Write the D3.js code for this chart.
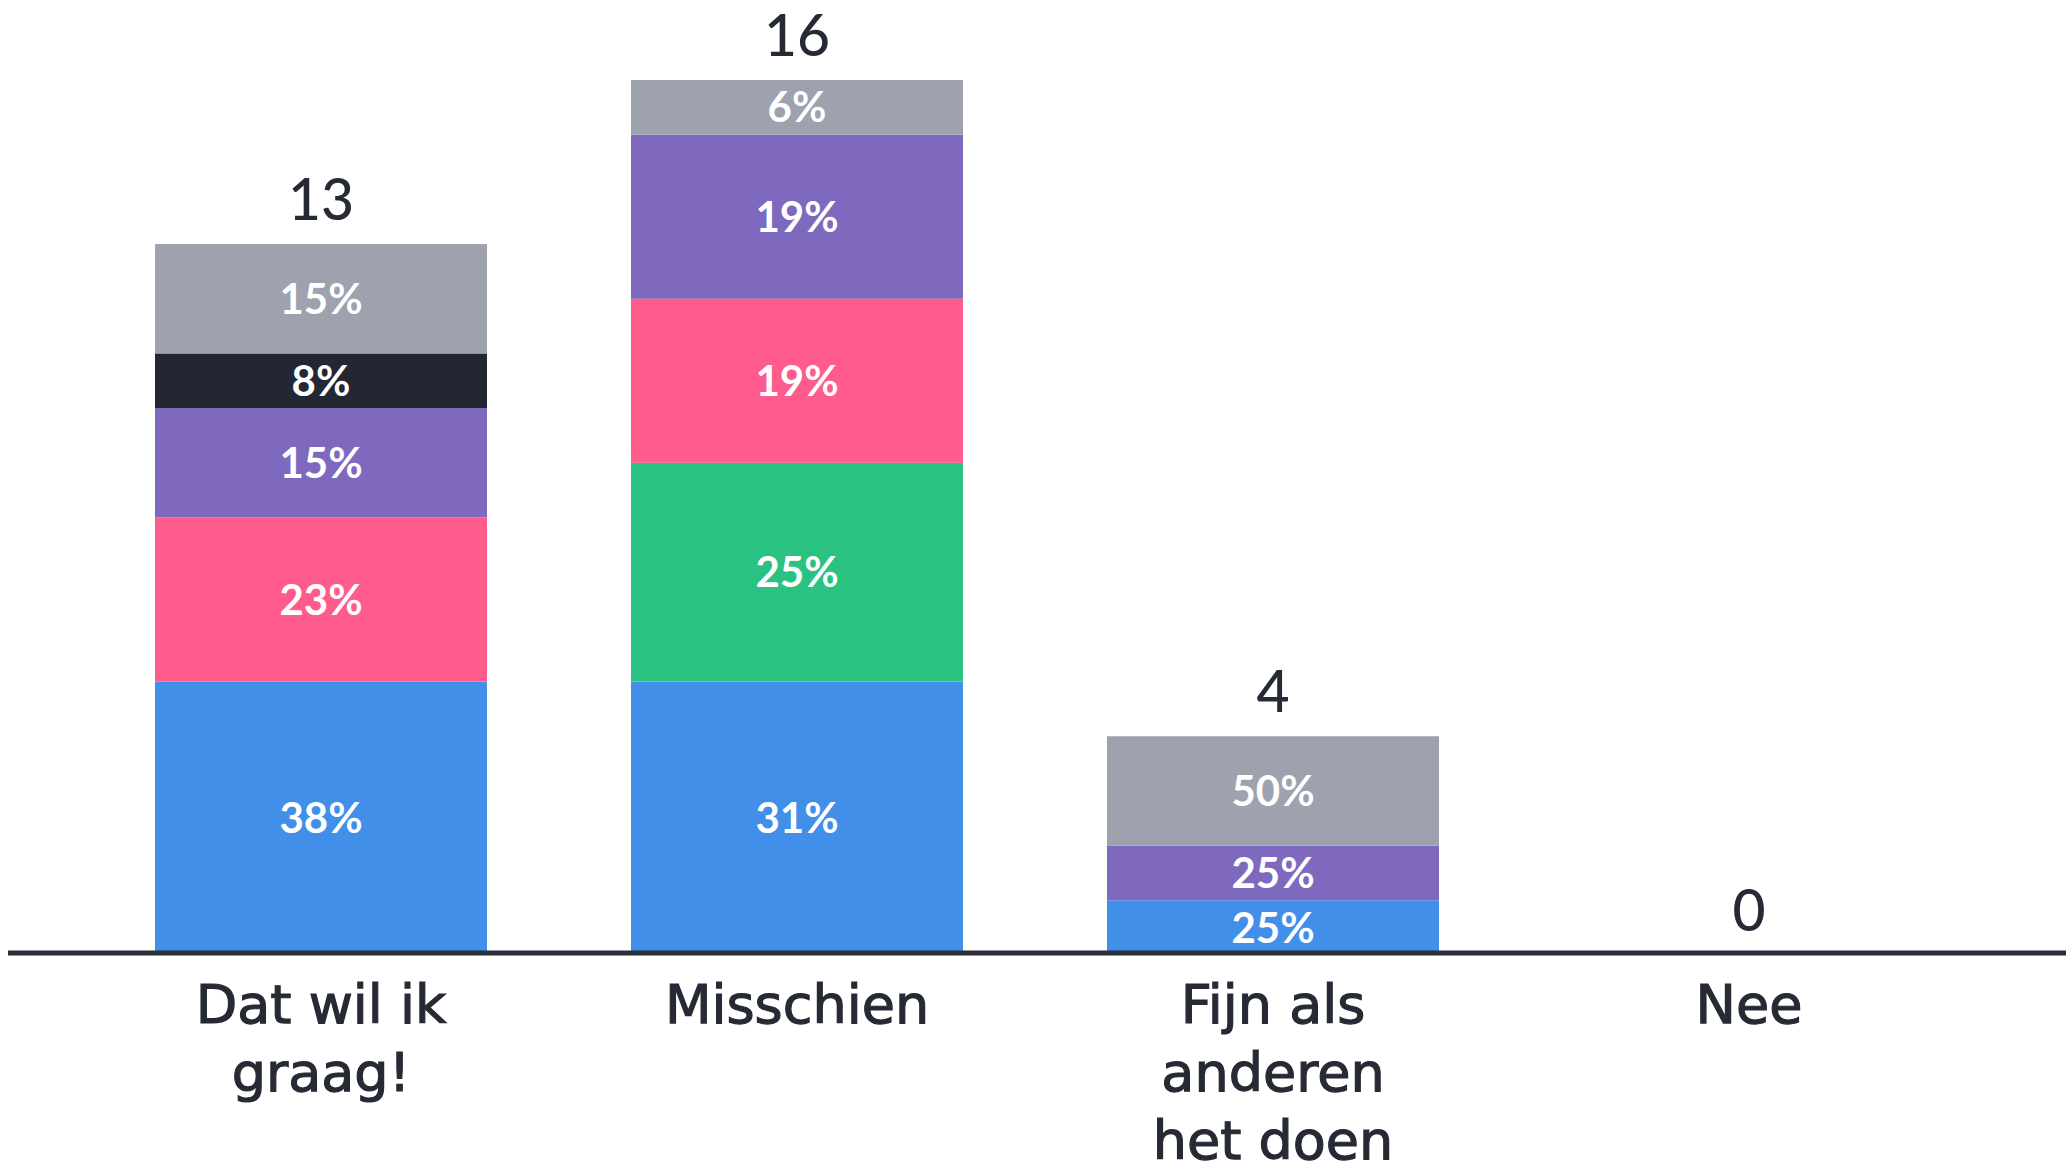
<!DOCTYPE html>
<html>
<head>
<meta charset="utf-8">
<script src="https://cdn.jsdelivr.net/npm/d3@7"></script>
<style>
  html, body { margin: 0; padding: 0; background: #fff; }
  svg { display: block; font-family: Lato, "Noto Sans", sans-serif; }
</style>
</head>
<body>
<svg id="chart" width="2066" height="1172"></svg>
<script>
// antwoordcategorieen
const categories = ["Dat wil ik graag!", "Misschien", "Fijn als anderen het doen", "Nee"];

// aantallen per kleurgroep, van onder naar boven gestapeld
const blueCounts   = [5, 5, 1, 0];
const greenCounts  = [0, 4, 0, 0];
const pinkCounts   = [3, 3, 0, 0];
const purpleCounts = [2, 3, 1, 0];
const darkCounts   = [1, 0, 0, 0];
const greyCounts   = [2, 1, 2, 0];

const seriesKeys = ["blue", "green", "pink", "purple", "dark", "grey"];
const seriesColors = ["#428fea", "#29c281", "#ff5b8c", "#7e69bf", "#232733", "#9da2ae"];

const rows = categories.map((c, i) => ({
    cat: c,
    blue: blueCounts[i], green: greenCounts[i], pink: pinkCounts[i],
    purple: purpleCounts[i], dark: darkCounts[i], grey: greyCounts[i]
}));
rows.forEach(r => { r.total = d3.sum(seriesKeys, k => r[k]); });

const svg = d3.select("#chart");
const textColor = "#262a35";

const x = d3.scaleBand()
    .domain(categories)
    .range([83, 1987])
    .paddingInner(0.3025)
    .paddingOuter(0.15125);

const y = d3.scaleLinear()
    .domain([0, 16])
    .range([955, 80]);

const color = d3.scaleOrdinal().domain(seriesKeys).range(seriesColors);

const stacked = d3.stack().keys(seriesKeys)(rows);

// balken
const layer = svg.selectAll(".layer")
    .data(stacked)
    .enter().append("g")
    .attr("class", "layer")
    .attr("fill", d => color(d.key));

layer.selectAll("rect")
    .data(d => d.filter(s => s[1] > s[0]))
    .enter().append("rect")
    .attr("x", s => x(s.data.cat))
    .attr("y", s => y(s[1]))
    .attr("width", x.bandwidth())
    .attr("height", s => y(s[0]) - y(s[1]));

// percentages in de segmenten
layer.selectAll("text")
    .data(d => d.filter(s => s[1] > s[0]).map(s => ({s: s, key: d.key})))
    .enter().append("text")
    .attr("x", d => x(d.s.data.cat) + x.bandwidth() / 2)
    .attr("y", d => (y(d.s[0]) + y(d.s[1])) / 2)
    .attr("dy", "0.36em")
    .attr("text-anchor", "middle")
    .attr("fill", "#fff")
    .style("font-size", "42px")
    .style("font-weight", 700)
    .text(d => Math.round((d.s[1] - d.s[0]) / d.s.data.total * 100) + "%");

// totalen boven de balken
svg.selectAll(".total")
    .data(rows)
    .enter().append("text")
    .attr("class", "total")
    .attr("x", d => x(d.cat) + x.bandwidth() / 2)
    .attr("y", d => y(d.total) - 24)
    .attr("text-anchor", "middle")
    .attr("fill", textColor)
    .style("font-size", "57px")
    .style("font-weight", 500)
    .text(d => d.total);

// basislijn
svg.append("line")
    .attr("x1", 8)
    .attr("x2", 2066)
    .attr("y1", y(0) - 2)
    .attr("y2", y(0) - 2)
    .attr("stroke", "#2a2e38")
    .attr("stroke-width", 5);

// categorielabels via de as, met regelafbreking
const xAxis = svg.append("g")
    .attr("transform", "translate(0," + y(0) + ")")
    .call(d3.axisBottom(x).tickSize(0));
xAxis.select(".domain").remove();
xAxis.selectAll("text")
    .attr("fill", textColor)
    .attr("stroke", textColor)
    .attr("stroke-width", 1.2)
    .attr("y", 0)
    .attr("dy", 0)
    .style("font-family", "'DejaVu Sans', sans-serif")
    .style("font-size", "54px")
    .style("font-weight", 400)
    .each(function(d) { wrap(d3.select(this), 300); });

function wrap(text, width) {
    const words = text.text().split(/\s+/);
    text.text(null);
    let line = [];
    let lineNo = 0;
    let tspan = text.append("tspan").attr("x", 0).attr("y", 68);
    words.forEach(w => {
        line.push(w);
        tspan.text(line.join(" "));
        if (tspan.node().getComputedTextLength() > width && line.length > 1) {
            line.pop();
            tspan.text(line.join(" "));
            line = [w];
            lineNo++;
            tspan = text.append("tspan").attr("x", 0).attr("y", 68 + lineNo * 68).text(w);
        }
    });
}
</script>
</body>
</html>
